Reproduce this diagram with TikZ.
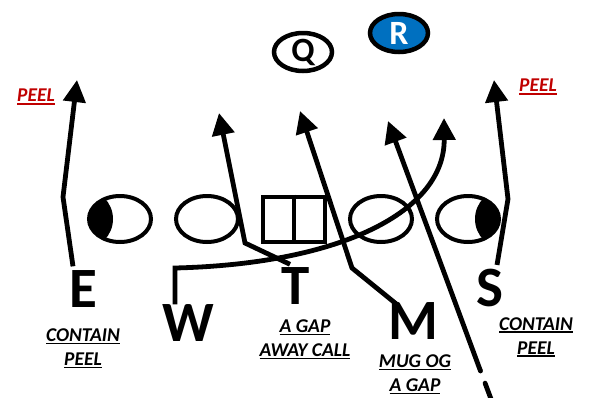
\documentclass[tikz,border=0pt]{standalone}
\usepackage{fontspec}
\setmainfont{Carlito}
\usepackage{tikz}
\usetikzlibrary{positioning,shapes.geometric,arrows.meta}
\definecolor{rblue}{RGB}{0,112,192}
\definecolor{peelred}{RGB}{192,0,0}
\newcommand{\undr}[1]{\setbox0\hbox{#1}\rlap{\rule[-2.8pt]{\wd0}{1.7pt}}\box0}

\begin{document}
\begin{tikzpicture}[x=1pt,y=-1pt,node distance=21pt,
	lineman/.style={ellipse,draw,line width=4pt,minimum width=62pt,minimum height=46pt,inner sep=0pt},
	centerbox/.style={rectangle,draw,line width=4pt,minimum width=62pt,minimum height=45pt,inner sep=0pt},
	backer/.style={ellipse,draw,line width=4.5pt,minimum width=58pt,minimum height=38pt,inner sep=0pt,font=\fontsize{34}{34}\selectfont\bfseries},
	player/.style={inner sep=0pt,font=\fontsize{57}{57}\selectfont\bfseries},
	call/.style={align=center,inner sep=0pt,font=\fontsize{19.5}{24}\selectfont\bfseries\itshape},
	route/.style={line width=4.8pt,-{Triangle[length=22pt,width=22pt]}}]
				\useasboundingbox (0,0) rectangle (590,397);
				% offensive line (ID=lt ... rt)
				\node[lineman,path picture={\fill ([xshift=-37pt]path picture bounding box.center) circle (30pt);}] (lt) at (120,219) {};
				\node[lineman] (lg) [right = of lt] {};
				\node[centerbox] (ctr) [right = of lg] {};
				\node[lineman] (rg) [right = of ctr] {};
				\node[lineman,path picture={\fill ([xshift=37pt]path picture bounding box.center) circle (30pt);}] (rt) [right = of rg] {};
				\draw[line width=4pt] (ctr.north) -- (ctr.south);
				% backfield
				\node[backer] (Q) at (303,52) {Q};
				\node[backer,fill=rblue,text=white] (R) at (399,33) {R};
				% defenders
				\node[player] (E) at (83,289) {E};
				\node[player] (W) at (188,323) {W};
				\node[player] (T) at (296,286) {T};
				\node[player] (M) at (413,321) {M};
				\node[player] (S) at (490,288) {S};
				% their calls
				\node[call] (callE) [below = 21pt of E] {\undr{CONTAIN}\\\undr{PEEL}};
				\node[call] (callT) [below = 15pt of T,xshift=9pt] {\undr{A GAP}\\\undr{AWAY CALL}};
				\node[call] (callM) [below = 15pt of M,xshift=2pt] {\undr{MUG OG}\\\undr{A GAP}};
				\node[call] (callS) [below = 10pt of S,xshift=46pt] {\undr{CONTAIN}\\\undr{PEEL}};
				\node[call,text=peelred] (peelE) at (36,97) {\undr{PEEL}};
				\node[call,text=peelred] (peelS) at (538,87) {\undr{PEEL}};
				% bends and ends of the routes
				\coordinate (eBend) at (63,197);
				\coordinate (eTip) at (77,80);
				\coordinate (sBend) at (508,199);
				\coordinate (sTip) at (494,80);
				\coordinate (tBend) at (245,243);
				\coordinate (tTip) at (219,113);
				\coordinate (mBend) at (352,268);
				\coordinate (mTip) at (300,111);
				\coordinate (wCorner) at (175,268);
				\coordinate (wTip) at (444,118);
				\coordinate (rTip) at (388,121);
				\coordinate (rDash) at (480.5,371);
				\coordinate (rStart) at (491,399);
				% draw the routes
				\draw[route] ([shift={(-10pt,4pt)}]E.north) -- (eBend) -- (eTip);
				\draw[route] ([shift={(7pt,4pt)}]S.north) -- (sBend) -- (sTip);
				\draw[route] ([shift={(-6pt,3pt)}]T.north) -- (tBend) -- (tTip);
				\draw[route] ([shift={(-15pt,-3pt)}]M.north) -- (mBend) -- (mTip);
				\draw[route] ([xshift=-13pt]W.north) -- (wCorner) .. controls (340,264) and (445,212) .. (wTip);
				\draw[route] (rDash) -- (rTip);
				\draw[line width=4.8pt,line cap=round,dash pattern=on 0pt off 13pt on 14pt] (rDash) -- (rStart);
\end{tikzpicture}
\end{document}
